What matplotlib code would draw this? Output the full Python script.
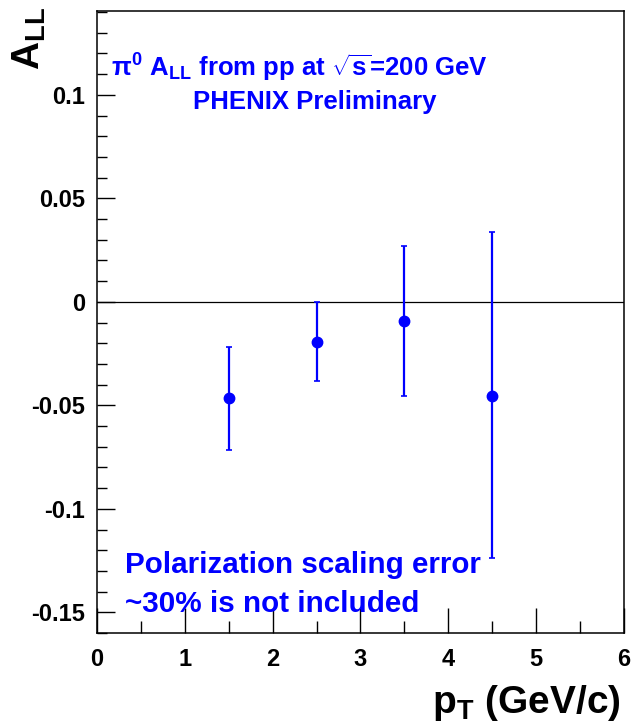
import numpy as np
import matplotlib
matplotlib.use('Agg')
import matplotlib.pyplot as plt
from matplotlib.ticker import MultipleLocator

# data
pt = [1.5, 2.5, 3.5, 4.5]
all_vals = [-0.0464, -0.0193, -0.0092, -0.0454]
err_up = [0.0247, 0.0193, 0.0362, 0.0792]
err_dn = [0.0251, 0.0189, 0.0362, 0.0786]
xticks = [0, 1, 2, 3, 4, 5, 6]
yticks = [-0.15, -0.1, -0.05, 0, 0.05, 0.1]
yticklabels = ['-0.15', '-0.1', '-0.05', '0', '0.05', '0.1']

plt.rcParams['font.family'] = ['Liberation Sans', 'DejaVu Sans']
plt.rcParams['font.weight'] = 'bold'
plt.rcParams['mathtext.fontset'] = 'custom'
plt.rcParams['mathtext.rm'] = 'Liberation Sans:bold'
plt.rcParams['mathtext.bf'] = 'Liberation Sans:bold'
plt.rcParams['mathtext.it'] = 'Liberation Sans:bold'
plt.rcParams['mathtext.sf'] = 'Liberation Sans:bold'

fig = plt.figure(figsize=(6.32, 7.27), dpi=100)
ax = fig.add_axes([0.1535, 0.1293, 0.8335, 0.8556])

blue = '#0000ff'
ax.axhline(0, color='black', lw=0.9, zorder=1)
ax.errorbar(pt, all_vals, yerr=[err_dn, err_up], fmt='o', color=blue,
            ms=7.5, elinewidth=1.6, capsize=2.5, capthick=1.2, zorder=3)

ax.set_xlim(0, 6)
ax.set_ylim(-0.160, 0.1405)
ax.set_xticks(xticks)
ax.set_yticks(yticks)
ax.set_yticklabels(yticklabels)
ax.xaxis.set_minor_locator(MultipleLocator(0.5))
ax.yaxis.set_minor_locator(MultipleLocator(0.01))
ax.tick_params(which='both', direction='in', top=False, right=False, width=1)
ax.tick_params(which='major', labelsize=17)
ax.tick_params(axis='x', which='major', length=18, pad=11)
ax.tick_params(axis='x', which='minor', length=9)
ax.tick_params(axis='y', which='major', length=13, pad=8.5)
ax.tick_params(axis='y', which='minor', length=7)
for lab in ax.get_xticklabels() + ax.get_yticklabels():
    lab.set_fontweight('bold')
for s in ax.spines.values():
    s.set_linewidth(1.1)

fig.text(0.047, 0.99, r'A$_{\mathrm{LL}}$', rotation=90, ha='center', va='top',
         fontsize=28, fontweight='bold')
fig.text(0.982, 0.006, r'p$_{\mathrm{T}}$ (GeV/c)', ha='right', va='bottom',
         fontsize=28, fontweight='bold')

ax.text(0.385, 0.8935, r'$\pi^{0}$ A$_{\mathrm{LL}}$ from pp at $\sqrt{\mathrm{s}}$=200 GeV',
        transform=ax.transAxes, ha='center', va='baseline', fontsize=18.5,
        color=blue, fontweight='bold')
ax.text(0.413, 0.8425, 'PHENIX Preliminary', transform=ax.transAxes, ha='center',
        va='baseline', fontsize=18.5, color=blue, fontweight='bold')
ax.text(0.053, 0.097, 'Polarization scaling error', transform=ax.transAxes,
        ha='left', va='baseline', fontsize=21.3, color=blue, fontweight='bold')
ax.text(0.053, 0.033, '~30% is not included', transform=ax.transAxes,
        ha='left', va='baseline', fontsize=21.3, color=blue, fontweight='bold')

fig.savefig('out.png', dpi=100)
